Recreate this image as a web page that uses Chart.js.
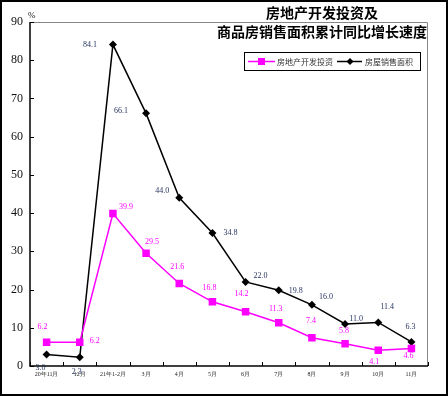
<!DOCTYPE html>
<html lang="zh">
  <head>
    <meta charset="UTF-8" />
    <title>房地产开发投资及商品房销售面积累计同比增长速度</title>
    <script src="https://cdn.jsdelivr.net/npm/chart.js"></script>
    <style>
      body { margin: 0; background: #fff; }
    </style>
  </head>
  <body>
    <canvas id="trendChart" width="448" height="396"></canvas>

    <script>
// categories and values
const months = ['20年11月', '12月', '21年1-2月', '3月', '4月', '5月', '6月', '7月', '8月', '9月', '10月', '11月'];
const investment = [6.2, 6.2, 39.9, 29.5, 21.6, 16.8, 14.2, 11.3, 7.4, 5.8, 4.1, 4.6];
const salesArea = [3.0, 2.3, 84.1, 66.1, 44.0, 34.8, 22.0, 19.8, 16.0, 11.0, 11.4, 6.3];
const yTicks = [0, 10, 20, 30, 40, 50, 60, 70, 80, 90];

// where each value label sits relative to its point (dx, dy)
const investLabelShift = [[-4, -15], [15, -1], [13, -7], [6, -11], [-2, -17], [-3, -14], [-4, -18], [-3, -14], [-1, -17], [-1, -13], [-4, 12], [-3, 7]];
const salesLabelShift = [[-6, 13], [-3, 15], [-23, 0], [-25, -2], [-17, -7], [18, 0], [15, -6], [17, 1], [14, -8], [11, -5], [9, -16], [-1, -15]];

const serif = '"Liberation Serif", "DejaVu Serif", serif';
const cjk = '"Noto Sans CJK SC", sans-serif';

// frame, title, legend, inward ticks and value labels
const decorPlugin = {
  id: 'decor',
  afterDraw(chart) {
    const ctx = chart.ctx;
    const area = chart.chartArea;
    const ys = chart.scales.y;
    ctx.save();

    // grey top/right border of plot
    ctx.strokeStyle = '#888';
    ctx.lineWidth = 1;
    ctx.beginPath();
    ctx.moveTo(area.left, area.top + 0.5);
    ctx.lineTo(area.right - 0.5, area.top + 0.5);
    ctx.lineTo(area.right - 0.5, area.bottom);
    ctx.stroke();

    // axes
    ctx.strokeStyle = '#000';
    ctx.lineWidth = 1.5;
    ctx.beginPath();
    ctx.moveTo(area.left, area.top);
    ctx.lineTo(area.left, area.bottom);
    ctx.lineTo(area.right, area.bottom);
    ctx.stroke();

    // inward ticks
    ctx.lineWidth = 1;
    ctx.beginPath();
    ys.ticks.forEach((t, i) => {
      const y = Math.round(ys.getPixelForTick(i)) + 0.5;
      ctx.moveTo(area.left, y);
      ctx.lineTo(area.left + 4, y);
    });
    for (let i = 0; i <= months.length; i++) {
      const x = Math.round(area.left + (area.right - area.left) * i / months.length) + 0.5;
      ctx.moveTo(x, area.bottom);
      ctx.lineTo(x, area.bottom - 4);
    }
    ctx.stroke();

    // % unit
    ctx.fillStyle = '#111';
    ctx.font = '9px ' + serif;
    ctx.textAlign = 'left';
    ctx.textBaseline = 'middle';
    ctx.fillText('%', area.left - 2, 16);

    // title
    ctx.fillStyle = '#000';
    ctx.font = 'bold 14px ' + cjk;
    ctx.textAlign = 'center';
    ctx.fillText('房地产开发投资及', 322, 13);
    ctx.fillText('商品房销售面积累计同比增长速度', 322, 32);

    // legend
    ctx.fillStyle = '#fff';
    ctx.fillRect(244, 52, 176, 18);
    ctx.strokeStyle = '#000';
    ctx.lineWidth = 1;
    ctx.strokeRect(244.5, 52.5, 176, 18);
    ctx.strokeStyle = '#ff00ff';
    ctx.lineWidth = 1.5;
    ctx.beginPath();
    ctx.moveTo(248, 61.5);
    ctx.lineTo(275, 61.5);
    ctx.stroke();
    ctx.fillStyle = '#ff00ff';
    ctx.fillRect(258, 58, 7, 7);
    ctx.strokeStyle = '#000';
    ctx.beginPath();
    ctx.moveTo(337, 61.5);
    ctx.lineTo(362, 61.5);
    ctx.stroke();
    ctx.fillStyle = '#000';
    ctx.beginPath();
    ctx.moveTo(350, 58);
    ctx.lineTo(353.5, 61.5);
    ctx.lineTo(350, 65);
    ctx.lineTo(346.5, 61.5);
    ctx.closePath();
    ctx.fill();
    ctx.font = '8px ' + cjk;
    ctx.textAlign = 'left';
    ctx.fillStyle = '#333';
    ctx.fillText('房地产开发投资', 277, 61.5);
    ctx.fillText('房屋销售面积', 365, 61.5);

    // value labels
    ctx.font = '8px ' + serif;
    ctx.textAlign = 'center';
    const sets = [
      { idx: 0, vals: investment, shift: investLabelShift, color: '#ff00ff' },
      { idx: 1, vals: salesArea, shift: salesLabelShift, color: '#1f2d5a' }
    ];
    sets.forEach(s => {
      const meta = chart.getDatasetMeta(s.idx);
      ctx.fillStyle = s.color;
      meta.data.forEach((pt, i) => {
        ctx.fillText(s.vals[i].toFixed(1), pt.x + s.shift[i][0], pt.y + s.shift[i][1]);
      });
    });

    // outer frame
    ctx.strokeStyle = '#000';
    ctx.lineWidth = 2;
    ctx.strokeRect(1, 1, chart.width - 2, chart.height - 2);
    ctx.restore();
  }
};

new Chart(document.getElementById('trendChart'), {
  type: 'line',
  data: {
    labels: months,
    datasets: [
      {
        label: '房地产开发投资',
        data: investment,
        borderColor: '#ff00ff',
        backgroundColor: '#ff00ff',
        borderWidth: 1.5,
        pointStyle: 'rect',
        pointRadius: 5.3,
        pointBorderWidth: 0,
        tension: 0
      },
      {
        label: '房屋销售面积',
        data: salesArea,
        borderColor: '#000',
        backgroundColor: '#000',
        borderWidth: 1.5,
        pointStyle: 'rectRot',
        pointRadius: 4,
        pointBorderWidth: 0,
        tension: 0
      }
    ]
  },
  options: {
    responsive: false,
    animation: false,
    layout: { padding: { left: 0, top: 22, right: 20, bottom: 0 } },
    plugins: {
      legend: { display: false },
      tooltip: { enabled: false }
    },
    scales: {
      x: {
        offset: true,
        grid: { display: false, drawTicks: false },
        border: { display: false },
        afterFit: scale => { scale.height = 30; },
        ticks: {
          autoSkip: false,
          maxRotation: 0,
          padding: 5,
          color: '#222',
          font: { size: 6, family: serif }
        }
      },
      y: {
        min: 0,
        max: 90,
        afterBuildTicks: scale => { scale.ticks = yTicks.map(v => ({ value: v })); },
        grid: { display: false, drawTicks: false },
        border: { display: false },
        afterFit: scale => { scale.width = 30; },
        ticks: {
          padding: 7,
          color: '#111',
          font: { size: 12, family: serif }
        }
      }
    }
  },
  plugins: [decorPlugin]
});
    </script>
  </body>
</html>
